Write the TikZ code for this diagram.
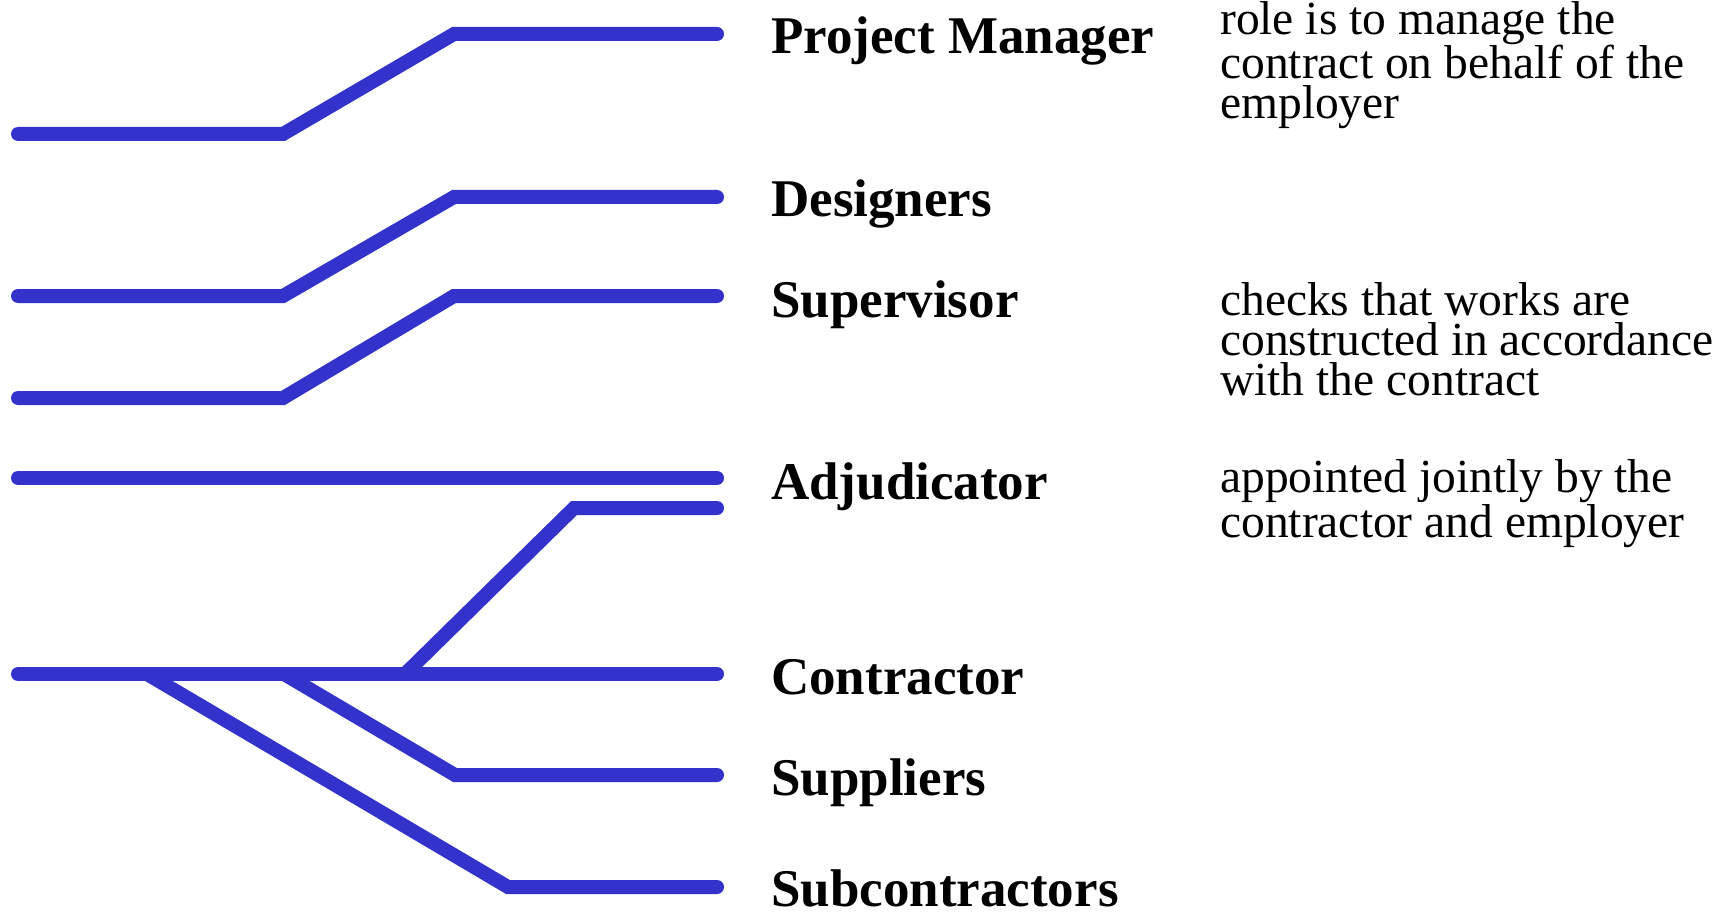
\documentclass[tikz,border=0pt]{standalone}
\usepackage{fontspec}
\setmainfont{Liberation Serif}
\usepackage{tikz}
\definecolor{railBlue}{RGB}{51,51,204}
\newcommand{\railWidth}{14pt}
\newcommand{\railStart}{18}
\newcommand{\railEnd}{717}
\newcommand{\labelX}{771}
\newcommand{\noteX}{1220}
\newcommand{\roleNames}{pm/54/Project Manager, des/216/Designers, sup/317/Supervisor, adj/499/Adjudicator, con/694/Contractor, supl/795/Suppliers, sub/906/Subcontractors}
\tikzset{
	rail/.style={draw=railBlue, line width=\railWidth, line cap=round},
	role/.style={anchor=base west, inner sep=0pt, font=\bfseries\fontsize{53}{53}\selectfont},
	note/.style={anchor=base west, inner sep=0pt, align=left, font=\fontsize{47.5}{40}\selectfont}
}

\begin{document}
\begin{tikzpicture}[x=1pt,y=-1pt]
	\useasboundingbox (0,0) rectangle (1731,912);

	% role labels
	\foreach \id/\base/\name in \roleNames
	{
		\node[role] (\id) at (\labelX,\base) {\name};
	}

	% notes (placed by the baseline of their last line)
	\node[note] (pmNote) at (\noteX,119) {role is to manage the\\contract on behalf of the\\employer};
	\node[note] (supNote) at (\noteX,395) {checks that works are\\constructed in accordance\\with the contract};
	\node[note] (adjNote) at (\noteX,537) {appointed jointly by the\\contractor and employer};

	% stepped rails
	\foreach \id/\low/\high in {pm/134/34, des/296/197, sup/398/296}
	{
		\coordinate (\id-start) at (\railStart,\low);
		\coordinate (\id-end) at (\railEnd,\high);
		\draw[rail] (\id-start) -- (283,\low) -- (454,\high) -- (\id-end);
	}

	% straight rails
	\foreach \id/\y in {adj/478, con/674}
	{
		\coordinate (\id-start) at (\railStart,\y);
		\coordinate (\id-end) at (\railEnd,\y);
		\draw[rail] (\id-start) -- (\id-end);
	}

	% branches off the contractor rail
	\foreach \id/\from/\knee/\y in {adjBranch/405/574/508, supl/284/455/775, sub/147/508/887}
	{
		\coordinate (\id-start) at (\from,674);
		\coordinate (\id-end) at (\railEnd,\y);
		\draw[rail] (\id-start) -- (\knee,\y) -- (\id-end);
	}
\end{tikzpicture}
\end{document}
